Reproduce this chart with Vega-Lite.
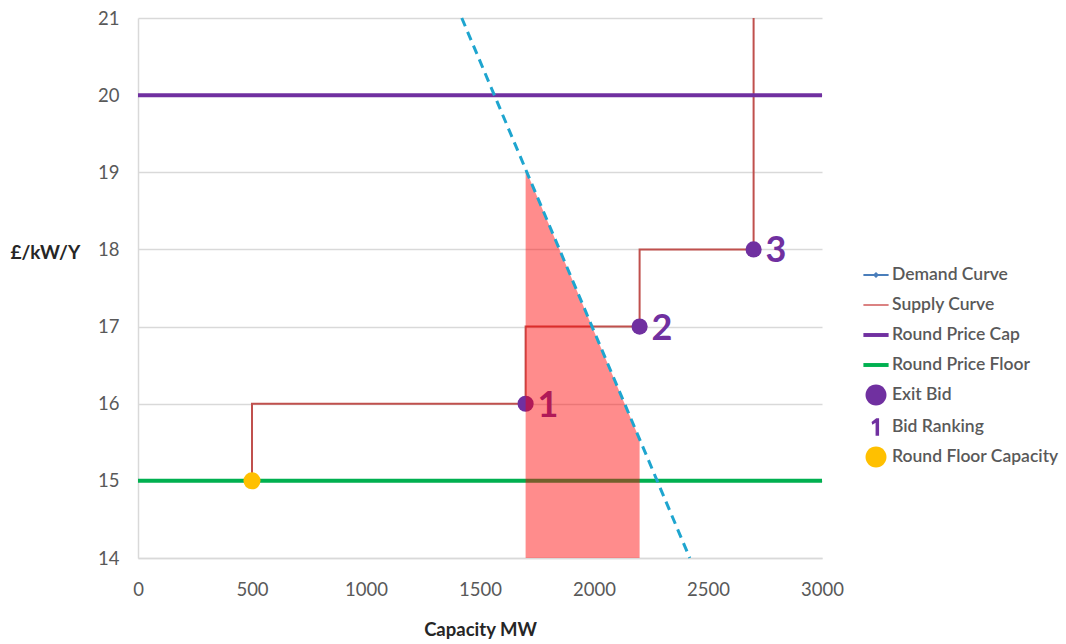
{
  "$schema": "https://vega.github.io/schema/vega-lite/v6.json",
  "autosize": {"type": "none"},
  "width": 684,
  "height": 540,
  "padding": {"left": 138, "top": 18, "right": 244, "bottom": 86},
  "background": "white",
  "config": {
    "view": {"stroke": null},
    "font": "Lato",
    "axis": {"labelFont": "Lato", "titleFont": "Lato"},
    "legend": {"labelFont": "Lato"}
  },
  "datasets": {
    "supply": [
      {"i": 1, "x": 500, "y": 15},
      {"i": 2, "x": 500, "y": 16},
      {"i": 3, "x": 1700, "y": 16},
      {"i": 4, "x": 1700, "y": 17},
      {"i": 5, "x": 2200, "y": 17},
      {"i": 6, "x": 2200, "y": 18},
      {"i": 7, "x": 2700, "y": 18},
      {"i": 8, "x": 2700, "y": 21}
    ],
    "bids": [
      {"x": 1700, "y": 16, "rank": "1"},
      {"x": 2200, "y": 17, "rank": "2"},
      {"x": 2700, "y": 18, "rank": "3"}
    ],
    "demand": [
      {"x": 1420, "y": 21},
      {"x": 2420, "y": 14}
    ],
    "area": [
      {"x": 1700, "y": 19.04, "y2": 14},
      {"x": 2200, "y": 15.54, "y2": 14}
    ],
    "legend": [
      {"series": "Demand Curve"},
      {"series": "Supply Curve"},
      {"series": "Round Price Cap"},
      {"series": "Round Price Floor"},
      {"series": "Exit Bid"},
      {"series": "Bid Ranking"},
      {"series": "Round Floor Capacity"}
    ]
  },
  "layer": [
    {
      "data": {"name": "supply"},
      "mark": {"type": "line", "color": "#c0504d", "strokeWidth": 2},
      "encoding": {
        "x": {
          "field": "x", "type": "quantitative",
          "scale": {"domain": [0, 3000], "nice": false},
          "axis": {
            "values": [0, 500, 1000, 1500, 2000, 2500, 3000],
            "format": "d",
            "grid": false, "ticks": false,
            "domainColor": "#d9d9d9", "domainWidth": 1.5,
            "labelColor": "#595959", "labelFontSize": 18.5, "labelPadding": 22,
            "labelFlush": false,
            "title": "Capacity MW", "titleFontSize": 18.5, "titleFontWeight": "bold",
            "titleColor": "#262626", "titlePadding": 22
          }
        },
        "y": {
          "field": "y", "type": "quantitative",
          "scale": {"domain": [14, 21], "nice": false, "zero": false},
          "axis": {
            "values": [14, 15, 16, 17, 18, 19, 20, 21],
            "format": "d",
            "grid": true, "gridColor": "#d9d9d9", "gridWidth": 1.5,
            "ticks": false,
            "domainColor": "#d9d9d9", "domainWidth": 1.5,
            "labelColor": "#595959", "labelFontSize": 18.5, "labelPadding": 19,
            "labelFlush": false,
            "title": "£/kW/Y", "titleFontSize": 19, "titleFontWeight": "bold",
            "titleColor": "#262626", "titleAngle": 0, "titleAlign": "left",
            "titleBaseline": "middle", "titleX": -128, "titleY": 234
          }
        },
        "order": {"field": "i", "type": "quantitative"}
      }
    },
    {
      "data": {"values": [{"y": 20}]},
      "mark": {"type": "rule", "color": "#7030a0", "strokeWidth": 4},
      "encoding": {"y": {"field": "y", "type": "quantitative"}}
    },
    {
      "data": {"values": [{"y": 15}]},
      "mark": {"type": "rule", "color": "#00b050", "strokeWidth": 4},
      "encoding": {"y": {"field": "y", "type": "quantitative"}}
    },
    {
      "data": {"name": "bids"},
      "mark": {"type": "point", "filled": true, "opacity": 1, "color": "#7030a0", "size": 260},
      "encoding": {
        "x": {"field": "x", "type": "quantitative"},
        "y": {"field": "y", "type": "quantitative"}
      }
    },
    {
      "data": {"values": [{"x": 500, "y": 15}]},
      "mark": {"type": "point", "filled": true, "opacity": 1, "color": "#ffc000", "size": 290},
      "encoding": {
        "x": {"field": "x", "type": "quantitative"},
        "y": {"field": "y", "type": "quantitative"}
      }
    },
    {
      "data": {"name": "bids"},
      "mark": {"type": "text", "align": "left", "baseline": "middle", "dx": 12, "dy": 2,
               "fontSize": 36, "fontWeight": "bold", "font": "Lato", "color": "#7030a0"},
      "encoding": {
        "x": {"field": "x", "type": "quantitative"},
        "y": {"field": "y", "type": "quantitative"},
        "text": {"field": "rank"}
      }
    },
    {
      "data": {"name": "area"},
      "mark": {"type": "area", "color": "#ff0000", "opacity": 0.45},
      "encoding": {
        "x": {"field": "x", "type": "quantitative"},
        "y": {"field": "y", "type": "quantitative"},
        "y2": {"field": "y2"}
      }
    },
    {
      "data": {"name": "demand"},
      "mark": {"type": "line", "color": "#1ea5cf", "strokeWidth": 3, "strokeDash": [9, 6]},
      "encoding": {
        "x": {"field": "x", "type": "quantitative"},
        "y": {"field": "y", "type": "quantitative"}
      }
    },
    {
      "data": {"name": "legend"},
      "mark": {"type": "point", "filled": true, "opacity": 0},
      "encoding": {
        "x": {"datum": 0, "type": "quantitative"},
        "y": {"datum": 14, "type": "quantitative"},
        "color": {
          "field": "series", "type": "nominal",
          "scale": {
            "domain": ["Demand Curve", "Supply Curve", "Round Price Cap", "Round Price Floor", "Exit Bid", "Bid Ranking", "Round Floor Capacity"],
            "range": ["#4a7ebb", "#d46a6a", "#7030a0", "#00b050", "#7030a0", "#7030a0", "#ffc000"]
          },
          "legend": {
            "title": null, "orient": "none", "legendX": 724, "legendY": 243,
            "symbolSize": 784, "symbolOpacity": 1, "symbolStrokeWidth": 0,
            "labelFontSize": 17.5, "labelColor": "#595959", "labelFontWeight": 600,
            "labelOffset": 2, "rowPadding": 7, "labelLimit": 300
          }
        },
        "shape": {
          "field": "series", "type": "nominal",
          "scale": {
            "domain": ["Demand Curve", "Supply Curve", "Round Price Cap", "Round Price Floor", "Exit Bid", "Bid Ranking", "Round Floor Capacity"],
            "range": [
              "M-0.9,-0.07H0.9V0.07H-0.9Z M0,-0.22L0.22,0L0,0.22L-0.22,0Z",
              "M-0.9,-0.06H0.9V0.06H-0.9Z",
              "M-0.9,-0.14H0.9V0.14H-0.9Z",
              "M-0.9,-0.14H0.9V0.14H-0.9Z",
              "M0.75,0A0.75,0.75 0 1,1 -0.75,0A0.75,0.75 0 1,1 0.75,0Z",
              "M0.02,-0.62L0.22,-0.62L0.22,0.62L-0.03,0.62L-0.03,-0.3L-0.26,-0.16L-0.32,-0.36Z",
              "M0.75,0A0.75,0.75 0 1,1 -0.75,0A0.75,0.75 0 1,1 0.75,0Z"
            ]
          },
          "legend": {
            "title": null, "orient": "none", "legendX": 724, "legendY": 243,
            "symbolSize": 784, "symbolOpacity": 1, "symbolStrokeWidth": 0,
            "labelFontSize": 17.5, "labelColor": "#595959", "labelFontWeight": 600,
            "labelOffset": 2, "rowPadding": 7, "labelLimit": 300
          }
        }
      }
    }
  ]
}
